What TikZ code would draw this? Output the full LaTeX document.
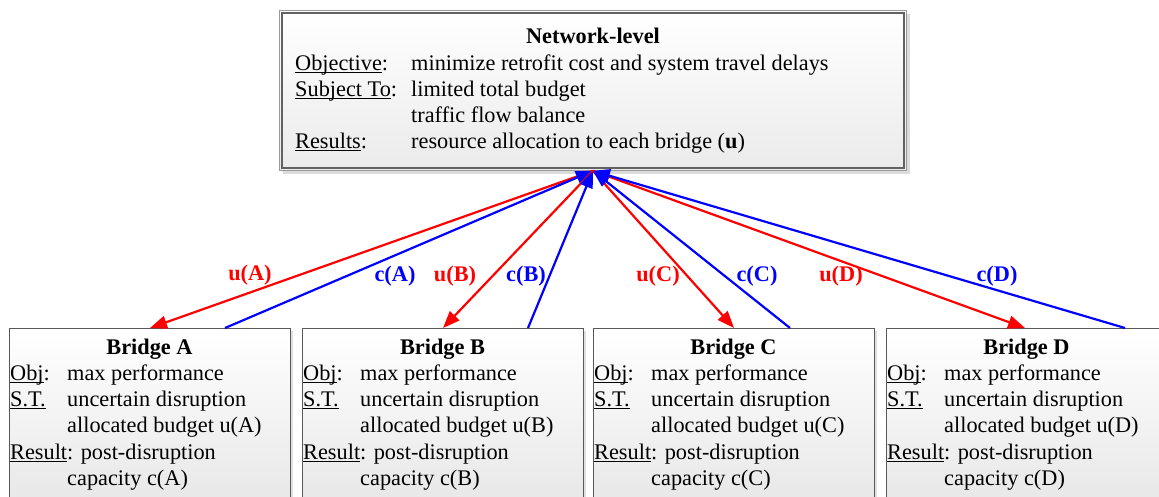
\documentclass[tikz,border=0pt]{standalone}
\usepackage{fontspec}
\setmainfont{Liberation Serif}
\usetikzlibrary{arrows.meta,calc}
\definecolor{ured}{RGB}{255,0,0}
\definecolor{cblue}{RGB}{0,0,255}
% underline set just below the baseline, as in a word processor
\newcommand\ulword[1]{\setbox0\hbox{#1}\rlap{\rule[-2.4pt]{\wd0}{0.9pt}}\box0}
\begin{document}
\begin{tikzpicture}[x=1pt,y=-1pt,
  txt/.style={anchor=base west, inner sep=0pt, font=\fontsize{22.3}{26}\selectfont},
  ttl/.style={anchor=base, inner sep=0pt, font=\fontsize{22.3}{26}\selectfont\bfseries},
  lbl/.style={inner sep=0pt, font=\fontsize{22.3}{26}\selectfont\bfseries},
  bridgebox/.style={draw=black!65, line width=0.9pt, top color=white, bottom color=black!10,
    anchor=north west, minimum width=281pt, minimum height=190pt, inner sep=0pt},
  netbox/.style={draw=black!40, line width=0.8pt, top color=white, bottom color=black!8,
    anchor=north west, minimum width=627pt, minimum height=160pt, inner sep=0pt},
  uarrow/.style={draw=ured, line width=2.2pt, -{Triangle[length=17pt,width=13pt]}},
  carrow/.style={draw=cblue, line width=2.2pt, -{Triangle[length=17pt,width=13pt]}},
]
\useasboundingbox (0,0) rectangle (1159,496);
\clip (0,0) rectangle (1159,496);
\fill[white] (0,0) rectangle (1159,496);

% network-level box with shadow and double frame
\fill[black!14] (283,14) rectangle (910,174);
\node[netbox] (net) at (279,10) {};
\draw[black!62, line width=1.4pt] ($(net.north west)+(3,3)$) rectangle ($(net.south east)+(-3,-3)$);

\node[ttl] (nettitle) at (593,43) {Network-level};
\node[txt] (objk) at (295,70) {\ulword{Objective}:};
\node[txt] (objv) at (411,70) {minimize retrofit cost and system travel delays};
\node[txt] (subk) at (295,96) {\ulword{Subject To}:};
\node[txt] (subv) at (411,96) {limited total budget};
\node[txt] (subw) at (411,122) {traffic flow balance};
\node[txt] (resk) at (295,148) {\ulword{Results}:};
\node[txt] (resv) at (411,148) {resource allocation to each bridge (\textbf{u})};

% bridge-level boxes
\foreach \b/\x in {A/9,B/302,C/593,D/886}{
  \fill[black!12] (\x+3,331) rectangle (\x+284,500);
  \node[bridgebox] (br\b) at (\x,328) {};
  \node[ttl] (t\b) at (\x+140.5,354) {Bridge \b};
  \node[txt] (ok\b) at (\x+1,380) {\ulword{Obj}:};
  \node[txt] (ov\b) at (\x+58,380) {max performance};
  \node[txt] (sk\b) at (\x+1,406) {\ulword{S.T.}};
  \node[txt] (sv\b) at (\x+58,406) {uncertain disruption};
  \node[txt] (sw\b) at (\x+58,432) {allocated budget u(\b)};
  \node[txt] (rk\b) at (\x+1,459) {\ulword{Result}: post-disruption};
  \node[txt] (rv\b) at (\x+58,485) {capacity c(\b)};
}

% connector end points
\coordinate (hub) at (net.south);
\coordinate (uA) at (150,328);
\coordinate (cA) at (225,328);
\coordinate (uB) at (443,328);
\coordinate (cB) at (528,328);
\coordinate (uC) at (734,328);
\coordinate (cC) at (790,328);
\coordinate (uD) at (1025,328);
\coordinate (cD) at (1125,328);

\draw[uarrow] (hub) -- (uA);
\draw[carrow] (cA) -- (hub);
\draw[uarrow] (hub) -- (uB);
\draw[carrow] (cB) -- (hub);
\draw[uarrow] (hub) -- (uC);
\draw[carrow] (cC) -- (hub);
\draw[uarrow] (hub) -- (uD);
\draw[carrow] (cD) -- (hub);

% flow labels
\node[lbl, text=ured] (luA) at (250,275) {u(A)};
\node[lbl, text=cblue] (lcA) at (395,276) {c(A)};
\node[lbl, text=ured] (luB) at (455,276) {u(B)};
\node[lbl, text=cblue] (lcB) at (526,276) {c(B)};
\node[lbl, text=ured] (luC) at (658,276) {u(C)};
\node[lbl, text=cblue] (lcC) at (757,276) {c(C)};
\node[lbl, text=ured] (luD) at (841,276) {u(D)};
\node[lbl, text=cblue] (lcD) at (997,276) {c(D)};
\end{tikzpicture}
\end{document}
